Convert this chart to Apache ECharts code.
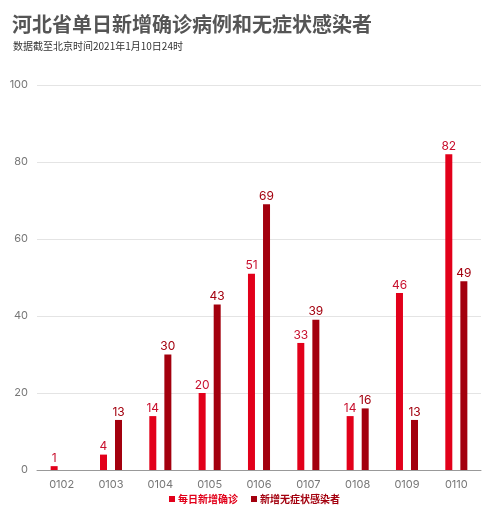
<!DOCTYPE html>
<html><head><meta charset="utf-8">
<script src="https://cdn.jsdelivr.net/npm/echarts@6/dist/echarts.min.js"></script>
<style>html,body{margin:0;padding:0;background:#fff}#c{width:500px;height:519px}</style>
</head><body><div id="c"></div>
<script>
const categories = ['0102','0103','0104','0105','0106','0107','0108','0109','0110'];
const confirmed = [1,4,14,20,51,33,14,46,82];
const asymptomatic = [null,13,30,43,69,39,16,13,49];
const seriesNames = ['每日新增确诊','新增无症状感染者'];
const yTicks = {min:0,max:100,interval:20};

const RED = '#e2001a', DARK = '#a3000e';
const font = '"Noto Sans CJK SC", "Noto Sans", sans-serif';
const chart = echarts.init(document.getElementById('c'));
chart.setOption({
  animation:false,
  title:[
    {text:'河北省单日新增确诊病例和无症状感染者', left:7, top:9,
     textStyle:{fontSize:20, fontWeight:'bold', color:'#555', fontFamily:font}},
    {text:'数据截至北京时间2021年1月10日24时', left:8, top:36,
     textStyle:{fontSize:10, fontWeight:'normal', color:'#333', fontFamily:font}}
  ],
  legend:{bottom:10, left:164, itemWidth:6, itemHeight:6, itemGap:13, icon:'rect',
    textStyle:{fontSize:10, fontFamily:font, fontWeight:'bold', padding:[0,0,0,-2]},
    data:[{name:seriesNames[0], textStyle:{color:RED}},{name:seriesNames[1], textStyle:{color:DARK}}]},
  grid:{left:37, right:19, top:85, bottom:49},
  xAxis:{type:'category', data:categories,
    axisLine:{lineStyle:{color:'#999'}}, axisTick:{show:false},
    axisLabel:{color:'#777', fontSize:11, margin:9, fontFamily:'Inter, sans-serif'}},
  yAxis:{type:'value', min:yTicks.min, max:yTicks.max, interval:yTicks.interval,
    axisLabel:{color:'#777', fontSize:11, margin:9, fontFamily:'Inter, sans-serif'},
    splitLine:{lineStyle:{color:'#e4e4e4'}}},
  series:[
    {name:seriesNames[0], type:'bar', data:confirmed, barWidth:7, barGap:'115%',
     itemStyle:{color:RED},
     label:{show:true, position:'top', distance:2, color:'#c8102e', fontSize:12, fontFamily:'Inter, sans-serif'}},
    {name:seriesNames[1], type:'bar', data:asymptomatic, barWidth:7,
     itemStyle:{color:DARK},
     label:{show:true, position:'top', distance:2, color:DARK, fontSize:12, fontFamily:'Inter, sans-serif'}}
  ]
});
</script></body></html>
